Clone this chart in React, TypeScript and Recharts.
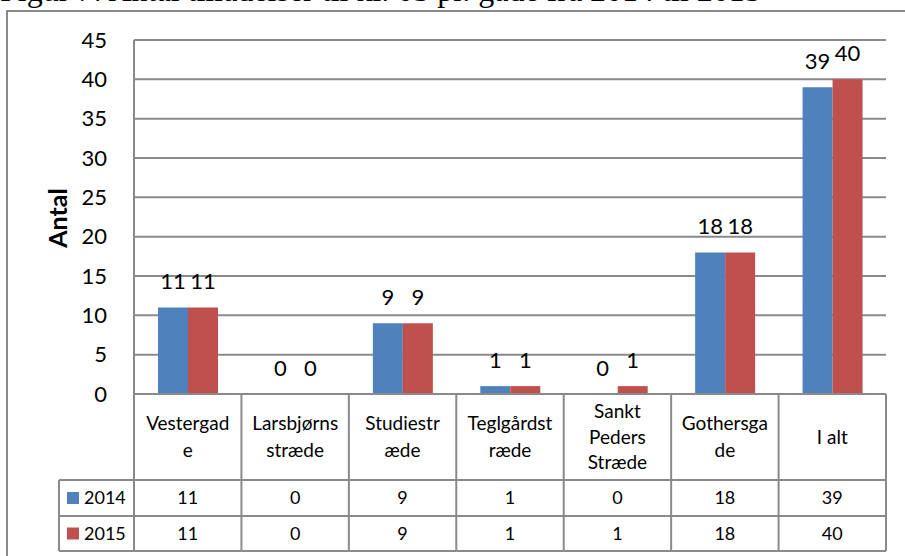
import React from "react";
import { BarChart, Bar, XAxis, YAxis, CartesianGrid, LabelList } from "recharts";

const categories = [
  "Vestergade",
  "Larsbjørns stræde",
  "Studiestræde",
  "Teglgårdstræde",
  "Sankt Peders Stræde",
  "Gothersgade",
  "I alt",
];
const categoryLines = [
  ["Vestergad", "e"],
  ["Larsbjørns", "stræde"],
  ["Studiestr", "æde"],
  ["Teglgårdst", "ræde"],
  ["Sankt", "Peders", "Stræde"],
  ["Gothersga", "de"],
  ["I alt"],
];
const values2014 = [11, 0, 9, 1, 0, 18, 39];
const values2015 = [11, 0, 9, 1, 1, 18, 40];
const seriesNames = ["2014", "2015"];
const seriesColors = ["#4F81BD", "#C0504D"];
const yTicks = [0, 5, 10, 15, 20, 25, 30, 35, 40, 45];
const yLabel = "Antal";
const title = "Figur 7: Antal tilladelser til kl. 05 pr. gade fra 2014 til 2015";

const data = categories.map((c, i) => ({ name: c, v2014: values2014[i], v2015: values2015[i] }));

const W = 905;
const H = 556;
const PLOT_LEFT = 134;
const PLOT_RIGHT = 886;
const PLOT_TOP = 40;
const AXIS_Y = 394;
const TABLE_BOTTOM = 551;
const ROW1 = 480;
const ROW2 = 516;
const LEGEND_LEFT = 59;
const BAND = (PLOT_RIGHT - PLOT_LEFT) / categories.length;
const LINE = "#8a8a8a";
const FONT = "Lato, 'Open Sans', sans-serif";

const TableTick = (props: any) => {
  const { x, y, payload } = props;
  const idx = categories.indexOf(payload.value);
  const left = x - BAND / 2;
  const right = x + BAND / 2;
  const lines = categoryLines[idx] || [payload.value];
  const lh = lines.length > 2 ? 25.5 : 27;
  const headerMid = (y + ROW1) / 2;
  const startY = headerMid - ((lines.length - 1) * lh) / 2;
  const rows = [values2014[idx], values2015[idx]];
  const rowMids = [(ROW1 + ROW2) / 2, (ROW2 + TABLE_BOTTOM) / 2];
  return (
    <g>
      {idx === 0 && (
        <g>
          <line x1={left} y1={y} x2={left} y2={TABLE_BOTTOM} stroke={LINE} strokeWidth={2} />
          <line x1={LEGEND_LEFT} y1={ROW1} x2={left} y2={ROW1} stroke={LINE} strokeWidth={2} />
          <line x1={LEGEND_LEFT} y1={ROW2} x2={left} y2={ROW2} stroke={LINE} strokeWidth={2} />
          <line x1={LEGEND_LEFT} y1={TABLE_BOTTOM} x2={left} y2={TABLE_BOTTOM} stroke={LINE} strokeWidth={2} />
          <line x1={LEGEND_LEFT} y1={ROW1} x2={LEGEND_LEFT} y2={TABLE_BOTTOM} stroke={LINE} strokeWidth={2} />
          {seriesNames.map((s, k) => (
            <g key={s}>
              <rect x={LEGEND_LEFT + 8} y={rowMids[k] - 6} width={12} height={12} fill={seriesColors[k]} />
              <text x={LEGEND_LEFT + 25} y={rowMids[k]} dy="0.355em" fontSize={18} fontFamily={FONT} fill="#000">
                {s}
              </text>
            </g>
          ))}
        </g>
      )}
      <line x1={right} y1={y} x2={right} y2={TABLE_BOTTOM} stroke={LINE} strokeWidth={2} />
      <line x1={left} y1={ROW1} x2={right} y2={ROW1} stroke={LINE} strokeWidth={2} />
      <line x1={left} y1={ROW2} x2={right} y2={ROW2} stroke={LINE} strokeWidth={2} />
      <line x1={left} y1={TABLE_BOTTOM} x2={right} y2={TABLE_BOTTOM} stroke={LINE} strokeWidth={2} />
      {lines.map((l, k) => (
        <text key={k} x={x} y={startY + k * lh} dy="0.355em" textAnchor="middle" fontSize={19} fontFamily={FONT} fill="#000">
          {l}
        </text>
      ))}
      {rows.map((v, k) => (
        <text key={"v" + k} x={x} y={rowMids[k]} dy="0.355em" textAnchor="middle" fontSize={18} fontFamily={FONT} fill="#000">
          {v}
        </text>
      ))}
    </g>
  );
};

const TopLabel = (props: any) => {
  const { x, y, width, value } = props;
  return (
    <text x={x + width / 2} y={y - 26} dy="0.355em" textAnchor="middle" fontSize={22} fontFamily={FONT} fill="#000">
      {value}
    </text>
  );
};

const YLabel = () => (
  <text
    x={58}
    y={218}
    transform="rotate(-90 58 218)"
    textAnchor="middle"
    dy="0.355em"
    fontSize={25}
    fontWeight="bold"
    fontFamily={FONT}
    fill="#000"
  >
    {yLabel}
  </text>
);

export default function App() {
  return (
    <div style={{ position: "fixed", left: 0, top: 0, width: W, height: H, overflow: "hidden", background: "#fff" }}>
      <div
        style={{
          position: "absolute",
          left: 0,
          top: -28,
          fontFamily: "'Liberation Serif', serif",
          fontSize: 32,
          whiteSpace: "nowrap",
          color: "#000",
        }}
      >
        {title}
      </div>
      <div
        style={{
          position: "absolute",
          left: 6,
          top: 10,
          width: 1200,
          height: 1000,
          border: "2px solid #8a8a8a",
        }}
      />
      <div style={{ position: "absolute", left: 0, top: 0 }}>
        <BarChart
          width={W}
          height={H}
          data={data}
          margin={{ top: PLOT_TOP, right: W - PLOT_RIGHT, left: 0, bottom: H - TABLE_BOTTOM }}
          barGap={0}
          barSize={30}
        >
          <CartesianGrid vertical={false} stroke={LINE} strokeWidth={2} />
          <XAxis
            dataKey="name"
            height={TABLE_BOTTOM - AXIS_Y}
            interval={0}
            tickSize={0}
            tickMargin={0}
            tickLine={false}
            axisLine={{ stroke: LINE, strokeWidth: 2 }}
            tick={<TableTick />}
          />
          <YAxis
            width={PLOT_LEFT}
            domain={[0, 45]}
            ticks={yTicks}
            interval={0}
            tickLine={false}
            tickSize={0}
            tickMargin={27}
            axisLine={{ stroke: LINE, strokeWidth: 2 }}
            tick={{ fontSize: 22, fontFamily: FONT, fill: "#000" }}
            label={<YLabel />}
          />
          <Bar dataKey="v2014" name={seriesNames[0]} fill={seriesColors[0]} minPointSize={0.01} isAnimationActive={false}>
            <LabelList dataKey="v2014" content={<TopLabel />} />
          </Bar>
          <Bar dataKey="v2015" name={seriesNames[1]} fill={seriesColors[1]} minPointSize={0.01} isAnimationActive={false}>
            <LabelList dataKey="v2015" content={<TopLabel />} />
          </Bar>
        </BarChart>
      </div>
    </div>
  );
}
